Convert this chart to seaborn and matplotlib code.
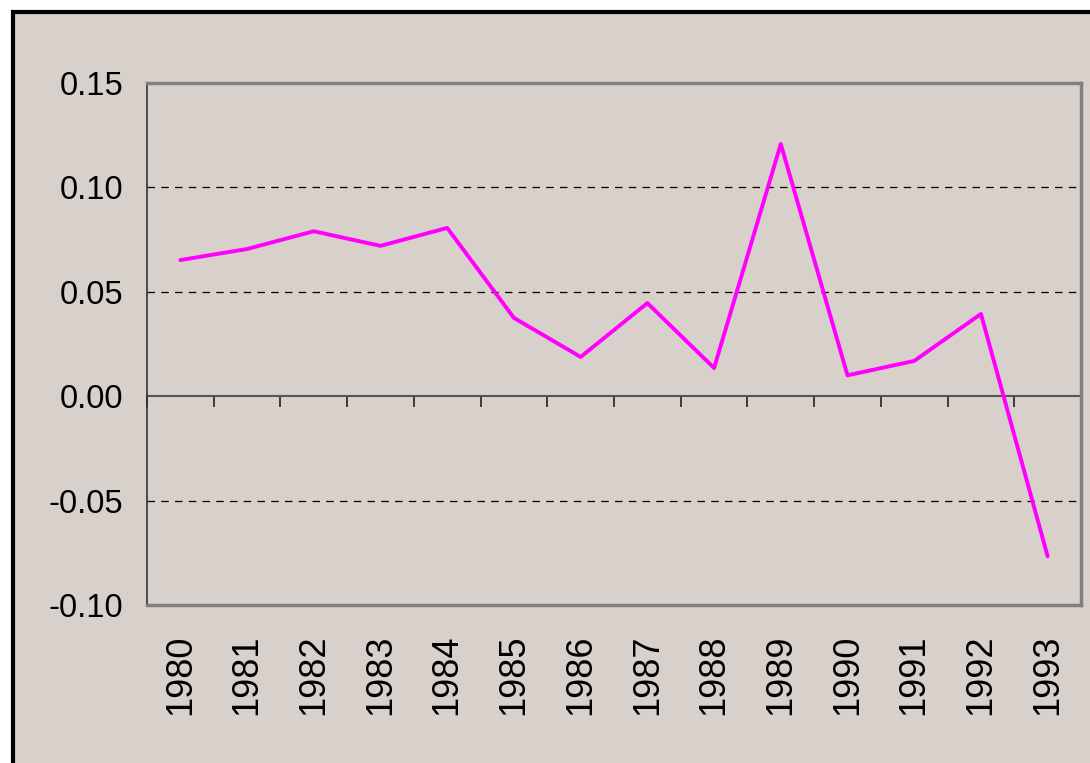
import numpy as np
import pandas as pd
import matplotlib
matplotlib.use("Agg")
import matplotlib.pyplot as plt
import seaborn as sns
from matplotlib.patches import Rectangle

years = ['1980', '1981', '1982', '1983', '1984', '1985', '1986',
         '1987', '1988', '1989', '1990', '1991', '1992', '1993']
values = [0.0652, 0.0705, 0.0790, 0.0720, 0.0806, 0.0375, 0.0188,
          0.0446, 0.0135, 0.1208, 0.0100, 0.0169, 0.0394, -0.0767]
y_ticks = [-0.10, -0.05, 0.00, 0.05, 0.10, 0.15]

bg = '#d8d0ca'


def main():
    sns.set_style('white')
    plt.rcParams['font.family'] = ['Liberation Sans', 'DejaVu Sans']
    plt.rcParams['text.color'] = 'black'
    plt.rcParams['xtick.color'] = 'black'
    plt.rcParams['ytick.color'] = 'black'

    df = pd.DataFrame({'pos': np.arange(len(years)), 'value': values})

    fig = plt.figure(figsize=(10.9, 7.63), dpi=100)
    fig.patch.set_facecolor('white')
    # beige panel with black frame (only top and left edges show)
    fig.patches.append(Rectangle((12.5 / 1090, -0.05), 1.1, 1.05 - 11.5 / 763,
                                 transform=fig.transFigure, facecolor=bg,
                                 edgecolor='black', linewidth=3, zorder=-10))

    ax = fig.add_axes([147 / 1090, 1 - 605 / 763, 934 / 1090, 522 / 763])
    ax.set_zorder(1)
    ax.set_facecolor(bg)

    sns.lineplot(data=df, x='pos', y='value', ax=ax, color='#ff00ff',
                 linewidth=2.8, zorder=5)

    ax.set_xlim(-0.5, len(years) - 0.5)
    ax.set_ylim(-0.10, 0.15)

    # dashed gridlines except at zero
    for v in [-0.05, 0.05, 0.10]:
        ax.axhline(v, color='black', linestyle=(0, (6, 5)), linewidth=0.9, zorder=1)

    for side in ['top', 'right', 'bottom']:
        ax.spines[side].set_color('#808080')
        ax.spines[side].set_linewidth(2.5)
    ax.spines['left'].set_color('#333333')
    ax.spines['left'].set_linewidth(1.2)

    ax.set_yticks(y_ticks)
    ax.set_yticklabels(['%.2f' % t for t in y_ticks])
    ax.tick_params(axis='y', direction='out', length=7, width=1, color='#222222',
                   labelsize=23.5, labelcolor='black', pad=10)

    ax.set_xticks(df['pos'])
    ax.set_xticklabels(years, rotation=90)
    ax.tick_params(axis='x', length=0, labelsize=26, labelcolor='black', pad=21)
    ax.set_xlabel('')
    ax.set_ylabel('')

    # zero axis with boundary ticks
    zero_ax = ax.secondary_xaxis(0.4)
    zero_ax.set_xticks(np.arange(len(years) + 1) - 0.5)
    zero_ax.set_xticklabels([])
    zero_ax.tick_params(direction='out', length=8, width=1.2, color='#222222')
    zero_ax.spines['bottom'].set_color('#555555')
    zero_ax.spines['bottom'].set_linewidth(1.5)

    fig.savefig('out.png', dpi=100, facecolor=fig.get_facecolor())


if __name__ == '__main__':
    main()
